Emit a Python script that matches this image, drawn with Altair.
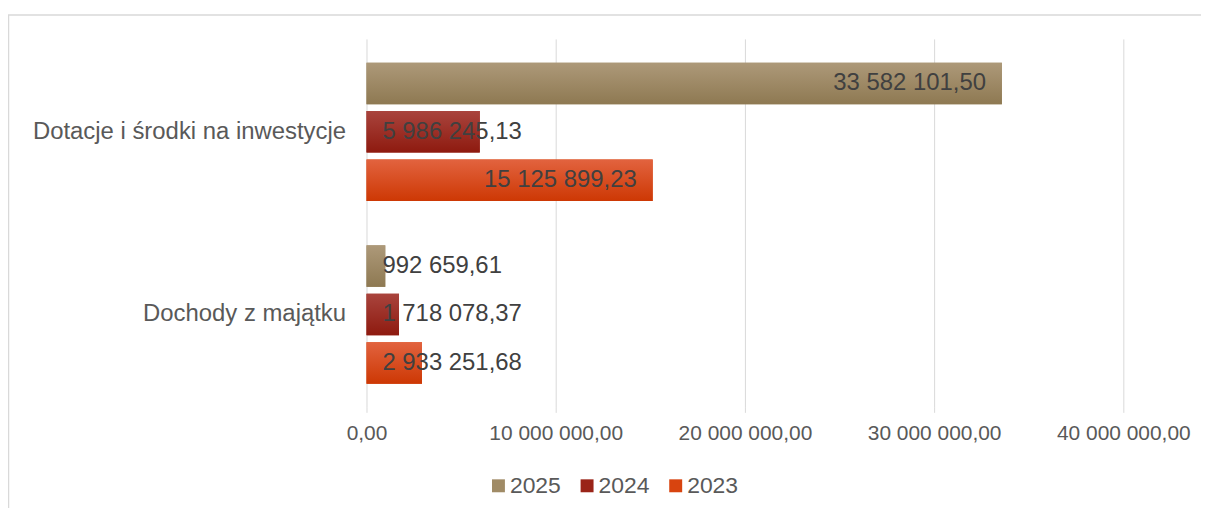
import altair as alt
import pandas as pd

categories = ["Dotacje i środki na inwestycje", "Dochody z majątku"]
years = ["2025", "2024", "2023"]
values_2025 = [33582101.50, 992659.61]
values_2024 = [5986245.13, 1718078.37]
values_2023 = [15125899.23, 2933251.68]
tick_values = [0, 10000000, 20000000, 30000000, 40000000]
tick_labels = ["0,00", "10 000 000,00", "20 000 000,00", "30 000 000,00", "40 000 000,00"]

solid_colors = ["#a08b66", "#9a2418", "#d8440f"]
gradients = {
    "2025": ("#ad9979", "#8e7952"),
    "2024": ("#a9443d", "#8e1a0f"),
    "2023": ("#e2633f", "#cd3804"),
}


def pl_format(v):
    s = f"{v:,.2f}"
    return s.replace(",", " ").replace(".", ",")


rows = []
for year, vals in zip(years, [values_2025, values_2024, values_2023]):
    for cat, v in zip(categories, vals):
        rows.append({"category": cat, "year": year, "value": v, "label": pl_format(v)})
df = pd.DataFrame(rows)

FONT = "Liberation Sans"

y_enc = alt.Y(
    "category:N",
    sort=categories,
    scale=alt.Scale(paddingInner=0.243, paddingOuter=0.13),
    axis=alt.Axis(
        title=None, ticks=False, domain=False, labelFontSize=24, labelColor="#595959",
        labelFont=FONT, labelPadding=21, labelLimit=400,
    ),
)
yoff_enc = alt.YOffset(
    "year:N", sort=years,
    scale=alt.Scale(domain=years, paddingInner=0.143, paddingOuter=0),
)
label_map = "{" + ",".join(f"'{v}':'{l}'" for v, l in zip(tick_values, tick_labels)) + "}"
x_scale = alt.Scale(domain=[0, 40000000], nice=False)
x_axis = alt.Axis(
    title=None, values=tick_values, grid=True, gridColor="#d9d9d9", gridWidth=1,
    domain=False, ticks=True, tickColor="#d9d9d9", tickSize=5,
    labelFontSize=21, labelColor="#595959", labelFont=FONT, labelPadding=10,
    labelExpr=label_map + "[toString(datum.value)]", labelFlush=False,
)

base = alt.Chart(df)

legend_bars = base.mark_bar().encode(
    x=alt.X("value:Q", scale=x_scale, axis=x_axis),
    y=y_enc,
    yOffset=yoff_enc,
    color=alt.Color(
        "year:N",
        scale=alt.Scale(domain=years, range=solid_colors),
        legend=alt.Legend(
            title=None, orient="none", direction="horizontal", legendX=121, legendY=437,
            symbolType="square", symbolSize=169, symbolStrokeWidth=0,
            labelFontSize=23, labelColor="#595959", labelFont=FONT,
            labelOffset=0, columnPadding=14, padding=0,
        ),
    ),
)

grad_layers = []
for year in years:
    top, bottom = gradients[year]
    grad_layers.append(
        base.transform_filter(alt.datum.year == year).mark_bar(
            color=alt.Gradient(
                gradient="linear", x1=0, x2=0, y1=0, y2=1,
                stops=[alt.GradientStop(color=top, offset=0), alt.GradientStop(color=bottom, offset=1)],
            )
        ).encode(x=alt.X("value:Q", scale=x_scale), y=y_enc, yOffset=yoff_enc)
    )

text_end = base.transform_filter(alt.datum.value > 8000000).mark_text(
    align="right", baseline="middle", dx=-16, fontSize=24, font=FONT, color="#404040"
).encode(x=alt.X("value:Q", scale=x_scale), y=y_enc, yOffset=yoff_enc, text="label:N")

text_base = base.transform_filter(alt.datum.value <= 8000000).mark_text(
    align="left", baseline="middle", dx=16, fontSize=24, font=FONT, color="#404040"
).encode(x=alt.datum(0, scale=x_scale), y=y_enc, yOffset=yoff_enc, text="label:N")

frame = alt.Chart(pd.DataFrame({"a": [0]})).mark_rect(
    fillOpacity=0, stroke="#d9d9d9", strokeWidth=1.5
).encode(x=alt.value(-359.5), x2=alt.value(900), y=alt.value(-24), y2=alt.value(600))

chart = alt.layer(frame, legend_bars, *grad_layers, text_end, text_base).properties(
    width=760, height=370,
    autosize=alt.AutoSizeParams(type="none"),
    padding={"left": 360, "top": 30, "right": 78, "bottom": 100},
).configure_view(stroke=None)

chart.save("out.html", embed_options={"renderer": "svg", "actions": False})
